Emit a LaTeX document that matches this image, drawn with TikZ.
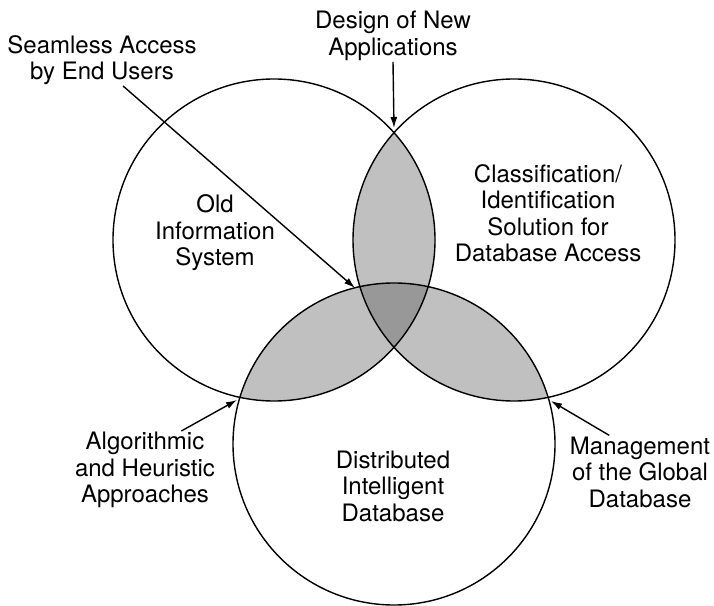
\documentclass[tikz,border=0pt]{standalone}
\usepackage{fontspec}
\setmainfont{TeX Gyre Heros}
\usepackage{xcolor}
\usetikzlibrary{arrows.meta}
\definecolor{lensgray}{RGB}{192,192,192}
\definecolor{coregray}{RGB}{152,152,152}
\newcommand{\vennr}{161pt}

\begin{document}
\begin{tikzpicture}[
    x=1pt,y=1pt,
    venn/.style={draw=black,line width=1.4pt},
    lbl/.style={align=center,inner sep=1pt,font=\fontsize{24}{26.5}\selectfont},
    arrow/.style={-{Latex[length=11pt,width=7pt]},line width=1.4pt}
  ]
    \useasboundingbox (0,0) rectangle (714,605);

    \coordinate (cold) at (274,365);
    \coordinate (cclass) at (514,365);
    \coordinate (cdist) at (394,161);

    % pairwise overlaps
    \begin{scope}
      \clip (cold) circle[radius=\vennr];
      \fill[lensgray] (cclass) circle[radius=\vennr];
      \fill[lensgray] (cdist) circle[radius=\vennr];
    \end{scope}
    \begin{scope}
      \clip (cclass) circle[radius=\vennr];
      \fill[lensgray] (cdist) circle[radius=\vennr];
    \end{scope}
    % common part
    \begin{scope}
      \clip (cold) circle[radius=\vennr];
      \clip (cclass) circle[radius=\vennr];
      \fill[coregray] (cdist) circle[radius=\vennr];
    \end{scope}

    \draw[venn] (cold) circle[radius=\vennr];
    \draw[venn] (cclass) circle[radius=\vennr];
    \draw[venn] (cdist) circle[radius=\vennr];

    \node[lbl] (old) at (215,372) {Old\\Information\\System};
    \node[lbl] (class) at (548,392) {Classification/\\Identification\\Solution for\\Database Access};
    \node[lbl] (dist) at (393,119) {Distributed\\Intelligent\\Database};

    \node[lbl] (design) at (393,569) {Design of New\\Applications};
    \node[lbl] (seamless) at (102,545) {Seamless Access\\by End Users};
    \node[lbl] (algo) at (145,135) {Algorithmic\\and Heuristic\\Approaches};
    \node[lbl] (manage) at (640,133) {Management\\of the Global\\Database};

    \coordinate (designtip) at (394,477);
    \coordinate (accesstip) at (355,317);
    \coordinate (algotip) at (237,205);
    \coordinate (managetip) at (551,204);

    \draw[arrow] (design.south) -- (designtip);
    \draw[arrow] (seamless.-51) -- (accesstip);
    \draw[arrow] (algo.47) -- (algotip);
    \draw[arrow] (manage.130) -- (managetip);
  \end{tikzpicture}
\end{document}
